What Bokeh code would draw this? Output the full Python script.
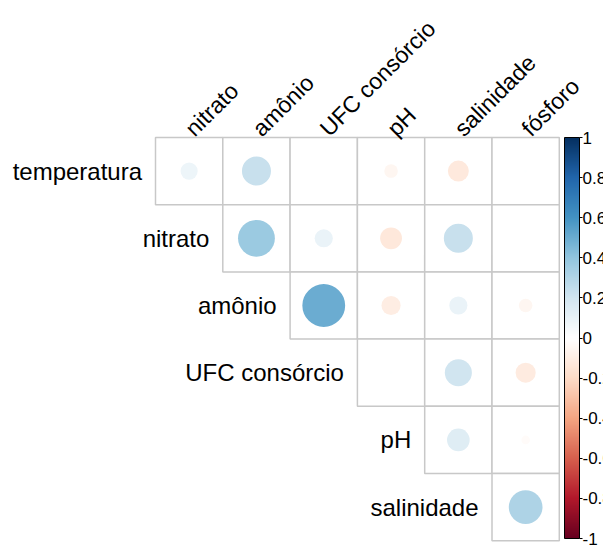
import numpy as np
from bokeh.plotting import figure
from bokeh.models import (ColumnDataSource, Range1d, ColorBar, LinearColorMapper,
                          FixedTicker, CustomJSTickFormatter)
from bokeh.core.properties import value
from bokeh.embed import file_html
from bokeh.resources import INLINE

# ---------------- data ----------------
row_vars = ["temperatura", "nitrato", "amônio", "UFC consórcio", "pH", "salinidade"]
col_vars = ["nitrato", "amônio", "UFC consórcio", "pH", "salinidade", "fósforo"]

# upper triangle (row i holds columns i..5)
r_temperatura = [0.08, 0.23, 0.002, -0.05, -0.12, 0.003]
r_nitrato = [0.37, 0.09, -0.13, 0.23, 0.001]
r_amonio = [0.50, -0.10, 0.09, -0.05]
r_ufc = [0.003, 0.20, -0.11]
r_ph = [0.14, -0.02]
r_salinidade = [0.31]
rows_r = [r_temperatura, r_nitrato, r_amonio, r_ufc, r_ph, r_salinidade]

cbar_ticks = [-1, -0.8, -0.6, -0.4, -0.2, 0, 0.2, 0.4, 0.6, 0.8, 1]

# ---------------- palette (corrplot RdBu) ----------------
base = ["#67001F", "#B2182B", "#D6604D", "#F4A582", "#FDDBC7", "#FFFFFF",
        "#D1E5F0", "#92C5DE", "#4393C3", "#2166AC", "#053061"]
base_rgb = np.array([[int(h[i:i + 2], 16) for i in (1, 3, 5)] for h in base], float)
pos = np.linspace(-1, 1, len(base))

def col_for(v):
    rgb = [np.interp(v, pos, base_rgb[:, k]) for k in range(3)]
    return "#%02x%02x%02x" % tuple(int(round(c)) for c in rgb)

palette = [col_for(v) for v in np.linspace(-1, 1, 200)]

# ---------------- sources ----------------
xs, ys, rs, cols, ds = [], [], [], [], []
for i, rr in enumerate(rows_r):
    for k, r in enumerate(rr):
        j = i + k
        xs.append(j + 0.5)
        ys.append(-(i + 0.5))
        rs.append(r)
        cols.append(col_for(r))
        ds.append(0.9 * np.sqrt(abs(r)))
cells = ColumnDataSource(dict(x=xs, y=ys, r=rs, c=cols, d=ds))

# ---------------- figure ----------------
W, H = 603, 546
cw, ch = 67.3, 67.2
x0 = -155 / cw
y1 = 137 / ch
p = figure(width=W, height=H, output_backend="svg", toolbar_location=None,
           x_range=Range1d(x0, x0 + W / cw), y_range=Range1d(y1 - H / ch, y1),
           min_border=0, outline_line_color=None)
p.axis.visible = False
p.grid.visible = False
p.background_fill_color = "white"
p.border_fill_color = "white"

p.rect(x="x", y="y", width=1, height=1, source=cells, fill_color="white",
       line_color="#C8C8C8", line_width=1.5)
p.ellipse(x="x", y="y", width="d", height="d", source=cells, fill_color="c",
          line_color=None)

font = value("Liberation Sans")
# row labels
p.text(x=[i - 0.2 for i in range(6)], y=[-(i + 0.5) for i in range(6)], text=row_vars,
       text_font=font, text_font_size="24px", text_align="right",
       text_baseline="middle", text_color="black")
# column labels
p.text(x=[j + 0.5 for j in range(6)], y=[0.08] * 6, text=col_vars,
       text_font=font, text_font_size="23px", text_align="left",
       text_baseline="alphabetic", angle=np.pi / 4, text_color="black")

mapper = LinearColorMapper(palette=palette, low=-1, high=1)
cb = ColorBar(color_mapper=mapper, ticker=FixedTicker(ticks=cbar_ticks),
              formatter=CustomJSTickFormatter(code="return String(tick)"),
              width=15, height=401, location=(564, 8), padding=0, margin=0,
              bar_line_color="black", bar_line_width=1,
              major_tick_in=0, major_tick_out=3, major_tick_line_color="black",
              minor_tick_line_color=None, label_standoff=0,
              major_label_text_font="Liberation Sans",
              major_label_text_font_size="17px", major_label_text_color="black",
              background_fill_color=None, border_line_color=None)
p.add_layout(cb, "center")

open("out.html", "w").write(file_html(p, INLINE))
